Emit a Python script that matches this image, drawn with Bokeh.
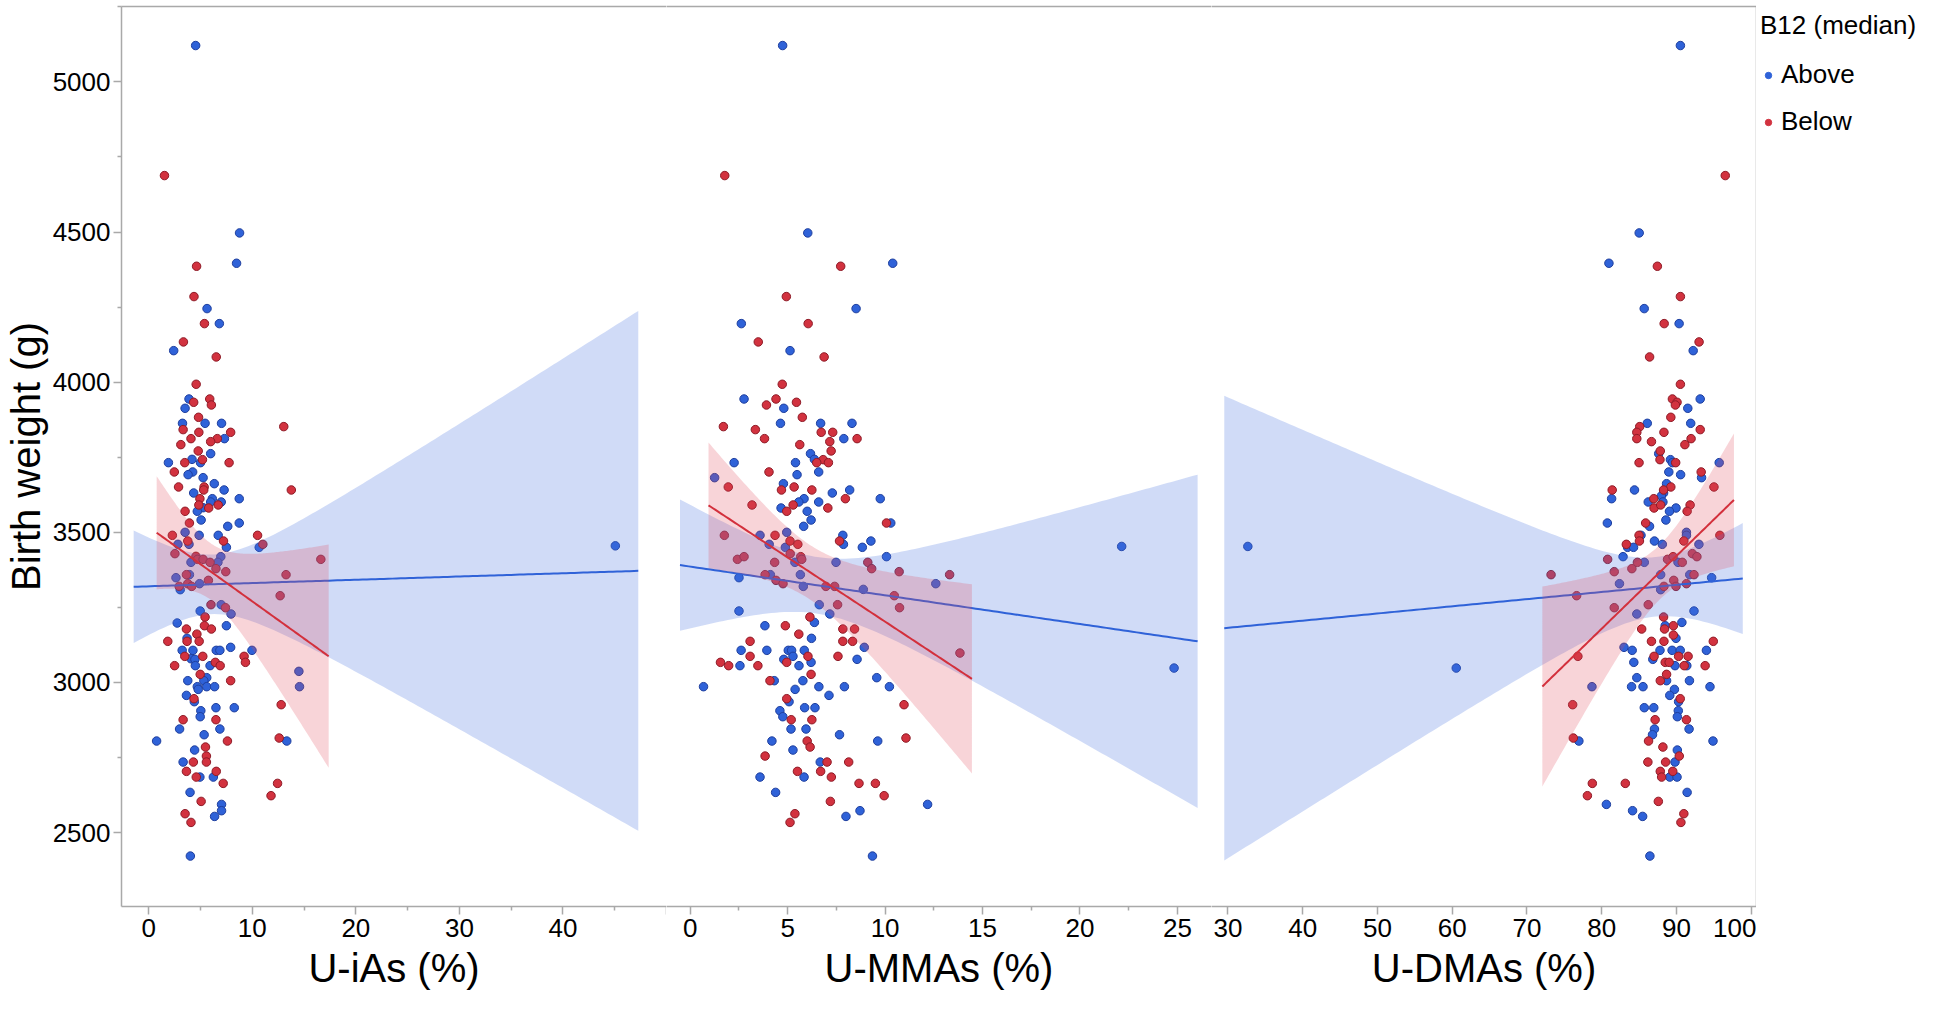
import numpy as np
from bokeh.plotting import figure
from bokeh.models import Range1d, FixedTicker, LinearAxis, Legend, LegendItem
from bokeh.layouts import row
from bokeh.embed import file_html
from bokeh.resources import INLINE

# ---------------- data ----------------
# Panel 1: U-iAs (%)
P1_ABOVE_X = [4.53, 8.77, 8.48, 5.63, 6.82, 2.41,
    3.89, 3.51, 3.26, 5.44, 7.03, 7.31, 5.98, 1.90, 4.18, 5.00, 4.24, 3.80, 5.25, 6.33, 7.28, 4.34,
    8.74, 6.14, 7.00, 5.98, 5.25, 4.69, 5.06, 7.63, 8.74, 6.71, 4.87, 7.50, 10.67, 3.51, 3.89, 2.82,
    6.96, 6.68, 4.08, 3.93, 2.63, 3.04, 4.91, 7.00, 7.95, 4.97, 2.75, 7.50,
    3.70, 3.23, 4.27, 6.52, 6.87, 7.91, 9.97, 4.08, 4.46, 4.50, 5.92, 5.60, 5.32, 4.69, 4.78, 5.60,
    6.36, 3.77, 3.64, 4.40, 6.49, 8.26, 5.03, 4.97, 2.98, 6.87, 5.35, 0.76, 13.33, 4.43, 3.32, 4.94,
    6.24, 3.99, 7.03, 7.03, 6.36, 4.02, 14.50, 14.56, 45.06]
P1_ABOVE_Y = [5121, 4497, 4396, 4245, 4195, 4105,
    3944, 3913, 3863, 3863, 3863, 3812, 3762, 3732, 3743, 3732, 3701, 3692, 3682, 3662, 3641, 3631,
    3612, 3612, 3601, 3601, 3582, 3570, 3541, 3520, 3531, 3490, 3490, 3450, 3450, 3500, 3460, 3460,
    3419, 3400, 3400, 3359, 3349, 3309, 3329, 3259, 3228, 3238, 3198, 3189,
    3147, 3107, 3107, 3107, 3107, 3117, 3107, 3079, 3077, 3056, 3056, 3016, 3006, 2986, 2977, 2986,
    2986, 3006, 2957, 2936, 2916, 2916, 2906, 2886, 2845, 2845, 2826, 2805, 2805, 2775, 2735, 2685,
    2685, 2634, 2594, 2573, 2554, 2422, 3037, 2986, 3455]
P1_BELOW_X = [1.52, 4.62, 4.37, 5.38, 3.35, 6.52, 4.58,
    5.89, 4.34, 6.05, 4.81, 3.32, 4.84, 7.91, 4.08, 6.62, 5.98, 3.10, 4.78, 13.04, 5.19, 3.48, 7.76,
    2.47, 2.88, 5.35, 5.31, 13.77, 4.94, 4.84, 5.79, 6.71, 3.51, 3.93, 2.28, 10.51, 11.02, 3.77, 7.22,
    2.53, 4.56, 4.72, 5.25, 5.92, 6.49, 7.44, 16.62, 13.26, 3.64, 5.76, 2.94, 3.77, 4.15, 12.69, 6.01,
    7.41, 5.44, 5.38, 3.64, 6.05, 4.65,
    1.84, 3.70, 4.87, 3.48, 5.22, 2.50, 6.43, 6.90, 9.21, 9.34, 4.97, 7.91, 4.37, 12.79, 3.32, 6.49,
    7.60, 12.60, 5.48, 4.31, 5.57, 5.57, 3.64, 6.52, 4.59, 7.19, 12.44, 11.81, 5.06, 3.51, 4.08]
P1_BELOW_Y = [4688, 4386, 4285, 4195, 4134, 4084, 3993,
    3944, 3933, 3924, 3883, 3842, 3833, 3833, 3812, 3812, 3802, 3792, 3771, 3852, 3742, 3732, 3732,
    3701, 3651, 3651, 3641, 3641, 3612, 3591, 3581, 3591, 3570, 3531, 3490, 3490, 3460, 3471, 3471,
    3429, 3420, 3410, 3410, 3400, 3379, 3369, 3410, 3359, 3359, 3340, 3320, 3329, 3320, 3289, 3259,
    3249, 3218, 3189, 3178, 3178, 3161,
    3137, 3137, 3137, 3087, 3087, 3056, 3067, 3056, 3087, 3067, 3027, 3006, 2946, 2926, 2876, 2876,
    2805, 2815, 2785, 2735, 2755, 2735, 2704, 2704, 2685, 2664, 2664, 2623, 2604, 2563, 2534]

# Panel 2: U-MMAs (%)
P2_ABOVE_X = [4.74, 6.03, 10.39, 8.51, 2.62, 5.12,
    2.76, 4.80, 4.63, 6.69, 8.30, 7.88, 6.17, 6.37, 2.25, 5.40, 5.48, 6.59, 4.78, 7.29, 8.18, 5.84,
    5.57, 6.59, 9.75, 6.00, 6.20, 5.82, 4.66, 7.83, 7.86, 8.83, 9.27, 10.29, 10.07, 1.25, 3.58, 4.05,
    4.95, 4.88, 5.37, 7.48, 5.65, 4.11, 5.80, 2.50, 8.88, 12.60, 2.50, 6.62, 7.16, 6.37, 3.83,
    6.22, 2.61, 3.93, 5.03, 5.20, 5.85, 5.27, 4.80, 2.55, 5.58, 6.20, 8.56, 8.93, 4.31, 5.78, 9.57,
    0.68, 5.38, 6.60, 7.91, 10.22, 7.12, 5.07, 5.87, 6.40, 4.60, 4.75, 5.17, 5.94, 7.66, 4.19, 9.62,
    5.27, 6.67, 3.58, 5.84, 4.38, 12.18, 8.71, 7.99, 9.35, 22.14, 24.83]
P2_ABOVE_Y = [5121, 4497, 4396, 4245, 4195, 4105,
    3944, 3913, 3863, 3863, 3863, 3812, 3762, 3743, 3732, 3732, 3692, 3701, 3662, 3631, 3641, 3612,
    3601, 3601, 3612, 3570, 3541, 3520, 3581, 3490, 3460, 3450, 3471, 3531, 3419, 3682, 3490, 3460,
    3500, 3450, 3400, 3400, 3359, 3359, 3320, 3349, 3310, 3329, 3238, 3259, 3228, 3200, 3189,
    3147, 3107, 3107, 3107, 3107, 3107, 3087, 3077, 3056, 3056, 3067, 3077, 3117, 3006, 3006, 3016,
    2986, 2977, 2986, 2986, 2986, 2957, 2936, 2916, 2916, 2906, 2886, 2845, 2845, 2826, 2805, 2805,
    2775, 2735, 2685, 2685, 2634, 2594, 2573, 2554, 2422, 3453, 3048]
P2_BELOW_X = [1.77, 7.72, 4.93, 6.05, 3.49, 6.87, 4.72,
    3.91, 4.40, 5.45, 5.75, 1.70, 3.34, 3.81, 6.72, 7.31, 8.56, 7.16, 5.62, 7.23, 6.82, 6.49, 7.09,
    4.04, 1.95, 5.33, 4.68, 6.24, 7.96, 3.17, 5.28, 4.95, 7.06, 10.07, 1.75, 4.35, 5.12, 5.52, 7.66,
    5.13, 2.42, 2.76, 5.67, 5.72, 4.33, 9.11, 9.31, 10.72, 3.84, 4.40, 4.76, 6.96, 7.41, 10.47, 10.74,
    13.31, 7.56, 6.14, 4.88, 7.83, 8.43, 5.57,
    3.07, 7.83, 8.33, 3.07, 6.04, 7.58, 1.55, 1.97, 3.47, 4.95, 6.20, 4.09, 4.95, 10.97, 5.18, 6.24,
    11.07, 6.00, 6.15, 3.84, 7.02, 8.13, 5.50, 6.69, 7.24, 8.66, 9.50, 9.95, 7.19, 5.37, 5.12, 13.84]
P2_BELOW_Y = [4688, 4386, 4285, 4195, 4134, 4084, 3993,
    3924, 3944, 3933, 3883, 3852, 3842, 3812, 3833, 3833, 3812, 3802, 3792, 3771, 3742, 3732, 3732,
    3701, 3651, 3651, 3641, 3641, 3612, 3591, 3591, 3570, 3581, 3531, 3490, 3490, 3471, 3460, 3471,
    3429, 3410, 3419, 3419, 3410, 3400, 3400, 3379, 3369, 3359, 3340, 3329, 3320, 3320, 3289, 3249,
    3359, 3259, 3218, 3189, 3178, 3178, 3161,
    3137, 3137, 3137, 3087, 3087, 3087, 3067, 3056, 3056, 3067, 3027, 3006, 2946, 2926, 2876, 2876,
    2815, 2805, 2785, 2755, 2735, 2735, 2704, 2704, 2685, 2664, 2664, 2623, 2604, 2563, 2534, 3098]

# Panel 3: U-DMAs (%)
P3_ABOVE_X = [90.52, 85.01, 80.96, 85.68, 90.35, 92.23,
    93.17, 91.51, 91.90, 86.09, 89.19, 89.45, 88.97, 90.55, 93.35, 95.71, 87.62, 84.38, 81.32, 88.67,
    88.27, 87.97, 88.18, 86.22, 89.93, 89.06, 88.58, 80.75, 86.39, 85.25, 87.05, 88.10, 91.33, 91.33,
    93.00, 83.46, 84.25, 82.85, 85.69, 90.20, 87.88, 82.37, 91.77, 94.70, 87.88, 84.69, 92.34, 90.72,
    88.49,
    89.93, 82.98, 84.07, 87.79, 89.41, 90.50, 94.00, 84.29, 86.83, 89.80, 91.38, 84.69, 83.99, 85.52,
    88.67, 91.73, 94.48, 78.69, 89.72, 89.10, 90.28, 85.69, 86.96, 90.24, 90.11, 87.05, 91.68, 86.79,
    76.94, 94.88, 90.11, 89.80, 89.10, 90.07, 91.42, 80.62, 84.12, 85.47, 86.44, 32.66, 60.54]
P3_ABOVE_Y = [5121, 4497, 4396, 4245, 4195, 4105,
    3944, 3913, 3863, 3863, 3742, 3732, 3701, 3692, 3682, 3732, 3762, 3641, 3612, 3662,
    3631, 3621, 3601, 3601, 3581, 3570, 3541, 3531, 3520, 3490, 3471, 3460, 3500, 3490,
    3460, 3450, 3450, 3419, 3400, 3400, 3359, 3329, 3359, 3349, 3309, 3228, 3238, 3200,
    3189,
    3147, 3117, 3107, 3107, 3107, 3107, 3107, 3067, 3077, 3056, 3056, 3016, 2986, 2986,
    3006, 3006, 2986, 2986, 2977, 2957, 2936, 2916, 2916, 2906, 2886, 2845, 2845, 2826,
    2805, 2805, 2775, 2735, 2685, 2685, 2634, 2594, 2573, 2554, 2422, 3453, 3048]
P3_BELOW_X = [96.52, 87.44, 90.52, 88.35, 93.02, 86.40, 90.52,
    89.45, 90.07, 89.85, 89.24, 85.08, 84.69, 84.69, 88.32, 93.17, 91.95, 91.12, 86.65, 87.83, 87.79,
    89.89, 84.99, 93.30, 81.40, 89.24, 95.01, 88.27, 86.96, 87.00, 87.88, 91.82, 91.42, 85.87, 84.99,
    85.04, 83.29, 90.98, 95.80, 80.79, 73.22, 81.67, 84.03, 84.77, 88.80, 89.54, 90.77, 92.12, 92.73,
    92.34, 76.64, 88.32, 89.63, 89.93, 91.33, 86.22, 81.67, 88.27, 89.58, 85.34, 88.40,
    89.58, 86.65, 88.32, 94.92, 87.00, 90.28, 91.55, 88.49, 89.02, 91.03, 93.83, 88.67, 87.83, 76.81,
    90.50, 76.11, 87.14, 91.33, 76.20, 86.26, 88.18, 90.37, 86.17, 88.54, 87.83, 89.50, 88.01, 78.74,
    83.15, 78.08, 87.57, 90.98, 90.59]
P3_BELOW_Y = [4688, 4386, 4285, 4195, 4134, 4084, 3993,
    3944, 3933, 3924, 3883, 3852, 3833, 3812, 3833, 3842, 3812, 3792, 3802, 3771, 3742,
    3732, 3732, 3701, 3641, 3651, 3651, 3641, 3612, 3581, 3591, 3591, 3570, 3531, 3490,
    3471, 3460, 3471, 3490, 3410, 3359, 3369, 3379, 3400, 3410, 3419, 3400, 3429, 3419,
    3359, 3289, 3320, 3340, 3320, 3329, 3259, 3249, 3218, 3189, 3178, 3178,
    3158, 3137, 3137, 3137, 3087, 3087, 3087, 3067, 3067, 3056, 3056, 3027, 3006, 3087,
    2946, 2926, 2876, 2876, 2815, 2805, 2785, 2755, 2735, 2735, 2704, 2704, 2685, 2664,
    2664, 2623, 2604, 2563, 2534]

X_LABELS = ["U-iAs (%)", "U-MMAs (%)", "U-DMAs (%)"]
X_RANGES = [(-2.63, 50.0), (-1.22, 26.75), (27.8, 100.7)]
X_TICKS = [[0, 10, 20, 30, 40, 50], [0, 5, 10, 15, 20, 25], [30, 40, 50, 60, 70, 80, 90, 100]]
X_MINOR = [[-5, 5, 15, 25, 35, 45], [-2.5, 2.5, 7.5, 12.5, 17.5, 22.5], []]
Y_TICKS = [2500, 3000, 3500, 4000, 4500, 5000]
Y_MINOR = [2250, 2750, 3250, 3750, 4250, 4750, 5250]
GROUPS = ["Above", "Below"]
LEGEND_TITLE = "B12 (median)"

# ---------------- styling ----------------
FONT = "Liberation Sans"
BLUE, BLUE_EDGE = "#2f62d8", "#1f3f9e"
RED, RED_EDGE = "#d2323f", "#8e1b27"
BAND = {"Above": ("#4a72e0", 0.26), "Below": ("#e04a5a", 0.24)}
LINE = {"Above": "#2f62d8", "Below": "#d3303c"}
AXIS_GRAY = "#a9a9a9"
T95 = 1.986
FRAME_H = 900
BOTTOM = 94

def fit_band(x, y):
    x = np.asarray(x, float); y = np.asarray(y, float)
    n = len(x); xm = x.mean(); sxx = ((x - xm) ** 2).sum()
    b = ((x - xm) * (y - y.mean())).sum() / sxx
    a = y.mean() - b * xm
    s = np.sqrt(((y - (a + b * x)) ** 2).sum() / (n - 2))
    lo, hi = x.min(), x.max(); pad = 0.05 * (hi - lo)
    xs = np.linspace(lo - pad, hi + pad, 120)
    yh = a + b * xs
    se = s * np.sqrt(1.0 / n + (xs - xm) ** 2 / sxx)
    return xs, yh, yh - T95 * se, yh + T95 * se

panels = [
    ((P1_ABOVE_X, P1_ABOVE_Y), (P1_BELOW_X, P1_BELOW_Y)),
    ((P2_ABOVE_X, P2_ABOVE_Y), (P2_BELOW_X, P2_BELOW_Y)),
    ((P3_ABOVE_X, P3_ABOVE_Y), (P3_BELOW_X, P3_BELOW_Y)),
]

def border_axis():
    return LinearAxis(ticker=FixedTicker(ticks=[]), axis_line_color=AXIS_GRAY, axis_line_width=1.5,
                      major_tick_line_color=None, minor_tick_line_color=None,
                      major_tick_in=0, major_tick_out=0, minor_tick_in=0, minor_tick_out=0,
                      major_label_standoff=0, axis_label_standoff=0,
                      major_label_text_font_size="0px")

y_range = Range1d(2254, 5251)
figs = []
for i, (above, below) in enumerate(panels):
    p = figure(frame_width=545, frame_height=FRAME_H, x_range=Range1d(*X_RANGES[i]), y_range=y_range,
               output_backend="svg", toolbar_location=None,
               y_axis_location="left" if i == 0 else None,
               min_border_left=0, min_border_right=0, min_border_top=0, min_border_bottom=BOTTOM)
    p.grid.visible = False
    p.outline_line_color = None
    p.background_fill_color = "white"
    p.border_fill_color = "white"

    xa = p.xaxis[0]
    xa.ticker = FixedTicker(ticks=X_TICKS[i], minor_ticks=X_MINOR[i])
    if i == 0:
        xa.major_label_overrides = {50: ""}
    xa.axis_label = X_LABELS[i]
    if i == 0:
        ya = p.yaxis[0]
        ya.ticker = FixedTicker(ticks=Y_TICKS, minor_ticks=Y_MINOR)
        ya.axis_label = "Birth weight (g)"
    for ax in p.axis:
        ax.axis_line_color = AXIS_GRAY
        ax.axis_line_width = 1.5
        ax.major_tick_line_color = AXIS_GRAY
        ax.minor_tick_line_color = AXIS_GRAY
        ax.major_tick_line_width = 1.5
        ax.minor_tick_line_width = 1.5
        ax.major_tick_in = 0
        ax.major_tick_out = 8
        ax.minor_tick_in = 0
        ax.minor_tick_out = 4
        ax.major_label_text_font = FONT
        ax.major_label_text_font_size = "26px"
        ax.major_label_text_color = "black"
        ax.major_label_standoff = 4
        ax.axis_label_text_font = FONT
        ax.axis_label_text_font_size = "40px"
        ax.axis_label_text_font_style = "normal"
        ax.axis_label_text_color = "black"
        ax.axis_label_standoff = 6
    if i == 0:
        p.yaxis[0].major_label_standoff = 3
        p.yaxis[0].axis_label_standoff = 2

    # top border (and right border on last panel)
    p.add_layout(border_axis(), "above")
    if i == 2:
        p.add_layout(border_axis(), "right")

    # points
    for (gx, gy), fc, lc in ((above, BLUE, BLUE_EDGE), (below, RED, RED_EDGE)):
        p.scatter(gx, gy, size=8.5, fill_color=fc, line_color=lc, line_width=1)
    # bands and fit lines (drawn over the points)
    for name, (gx, gy) in zip(GROUPS, (above, below)):
        xs, yh, lo, hi = fit_band(gx, gy)
        col, alpha = BAND[name]
        p.varea(x=xs, y1=lo, y2=hi, fill_color=col, fill_alpha=alpha)
        p.line(xs, yh, line_color=LINE[name], line_width=2)
    figs.append(p)

# legend, in its own narrow figure to the right (its sample markers lie outside its view)
leg = figure(frame_width=168, frame_height=FRAME_H, output_backend="svg", toolbar_location=None,
             x_range=Range1d(10, 11), y_range=Range1d(10, 11),
             x_axis_location=None, y_axis_location=None,
             min_border_left=0, min_border_right=0, min_border_top=6, min_border_bottom=BOTTOM)
leg.grid.visible = False
leg.outline_line_color = None
r_above = leg.scatter([0], [0], size=6, fill_color=BLUE, line_color=BLUE)
r_below = leg.scatter([0], [0], size=6, fill_color=RED, line_color=RED)
legend = Legend(items=[LegendItem(label=GROUPS[0], renderers=[r_above]),
                       LegendItem(label=GROUPS[1], renderers=[r_below])],
                title=LEGEND_TITLE, location="top_left")
legend.title_text_font = FONT
legend.title_text_font_size = "26px"
legend.title_text_font_style = "normal"
legend.title_text_color = "black"
legend.title_standoff = 18
legend.label_text_font = FONT
legend.label_text_font_size = "26px"
legend.label_text_color = "black"
legend.label_standoff = 5
legend.glyph_width = 16
legend.glyph_height = 30
legend.label_height = 30
legend.spacing = 16
legend.padding = 3
legend.margin = 4
legend.border_line_color = None
legend.background_fill_alpha = 0
leg.add_layout(legend)

layout = row(*figs, leg)
open("out.html", "w").write(file_html(layout, INLINE))
